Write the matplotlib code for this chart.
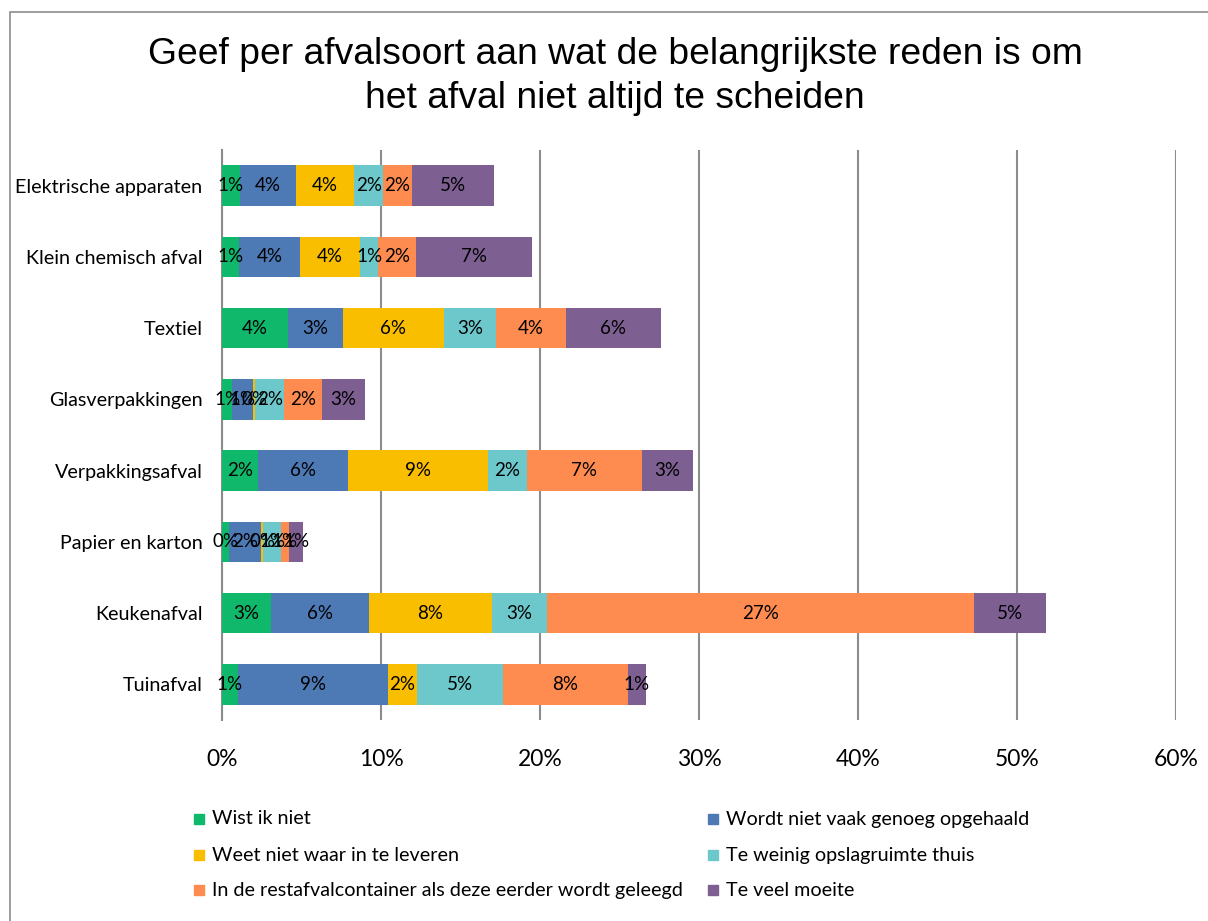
import matplotlib.pyplot as plt
import numpy as np
from matplotlib.patches import Rectangle

# categories, top to bottom as in the chart
categories = [
    "Elektrische apparaten",
    "Klein chemisch afval",
    "Textiel",
    "Glasverpakkingen",
    "Verpakkingsafval",
    "Papier en karton",
    "Keukenafval",
    "Tuinafval",
]

series_names = [
    "Wist ik niet",
    "Wordt niet vaak genoeg opgehaald",
    "Weet niet waar in te leveren",
    "Te weinig opslagruimte thuis",
    "In de restafvalcontainer als deze eerder wordt geleegd",
    "Te veel moeite",
]

# percentages per category (same order as categories)
wist_ik_niet = [1.11, 1.07, 4.15, 0.63, 2.26, 0.44, 3.08, 1.00]
niet_vaak_opgehaald = [3.52, 3.84, 3.46, 1.32, 5.66, 2.00, 6.16, 9.43]
waar_inleveren = [3.69, 3.77, 6.35, 0.15, 8.80, 0.17, 7.74, 1.82]
opslagruimte = [1.82, 1.15, 3.27, 1.80, 2.45, 1.07, 3.46, 5.41]
restafval = [1.79, 2.37, 4.40, 2.39, 7.23, 0.55, 26.86, 7.86]
veel_moeite = [5.19, 7.31, 5.97, 2.68, 3.20, 0.88, 4.53, 1.13]

series_values = [wist_ik_niet, niet_vaak_opgehaald, waar_inleveren,
                 opslagruimte, restafval, veel_moeite]

colors = ["#10B86C", "#4D79B5", "#F9BE00", "#6CC8CB", "#FE8B50", "#7D5F91"]

TEXT_FONT = ["Lato", "DejaVu Sans"]
TITLE_FONT = ["Liberation Sans", "DejaVu Sans"]

W, H = 1208, 921
fig = plt.figure(figsize=(W / 100, H / 100), dpi=100)

# outer chart border
fig.patches.append(Rectangle((10 / W, -0.01), 1.1, 1 - 12 / H + 0.01,
                             transform=fig.transFigure, fill=False,
                             edgecolor="#8C8C8C", linewidth=1.2))

ax = fig.add_axes([222 / W, 1 - 720 / H, (1176 - 222) / W, (720 - 150) / H])

y = np.arange(len(categories))
left = np.zeros(len(categories))
for name, vals, col in zip(series_names, series_values, colors):
    vals = np.array(vals)
    ax.barh(y, vals, left=left, height=0.57, color=col, label=name, zorder=3)
    for yi, l, v in zip(y, left, vals):
        ax.text(l + v / 2, yi, f"{v:.0f}%", ha="center", va="center",
                fontsize=13.5, family=TEXT_FONT, color="black", zorder=4)
    left += vals

ax.set_xlim(0, 60)
ax.set_ylim(len(categories) - 0.5, -0.5)
ax.set_xticks(np.arange(0, 61, 10))
ax.set_xticklabels([f"{t}%" for t in range(0, 61, 10)], family=TEXT_FONT, fontsize=16.5)
ax.set_yticks(y)
ax.set_yticklabels(categories, family=TEXT_FONT, fontsize=14.2)
ax.tick_params(axis="both", length=0)
ax.tick_params(axis="x", pad=21)
ax.tick_params(axis="y", pad=14)

ax.grid(axis="x", color="#8C8C8C", linewidth=1.5, zorder=0)
for s in ["top", "right", "bottom"]:
    ax.spines[s].set_visible(False)
ax.spines["left"].set_color("#8C8C8C")
ax.spines["left"].set_linewidth(1.5)

fig.text(615 / W, 1 - 55 / H, "Geef per afvalsoort aan wat de belangrijkste reden is om",
         ha="center", va="center", fontsize=26.8, family=TITLE_FONT)
fig.text(615 / W, 1 - 99 / H, "het afval niet altijd te scheiden",
         ha="center", va="center", fontsize=26.8, family=TITLE_FONT)

# legend, two columns, filled row by row
col_x = [194, 708]
row_y = [819, 855, 890]
for i, (name, col) in enumerate(zip(series_names, colors)):
    cx = col_x[i % 2]
    ry = row_y[i // 2]
    fig.patches.append(Rectangle((cx / W, 1 - (ry + 5) / H), 10 / W, 10 / H,
                                 transform=fig.transFigure, color=col))
    fig.text((cx + 18) / W, 1 - ry / H, name, ha="left", va="center",
             fontsize=14.2, family=TEXT_FONT)

fig.savefig("out.png", dpi=100)
